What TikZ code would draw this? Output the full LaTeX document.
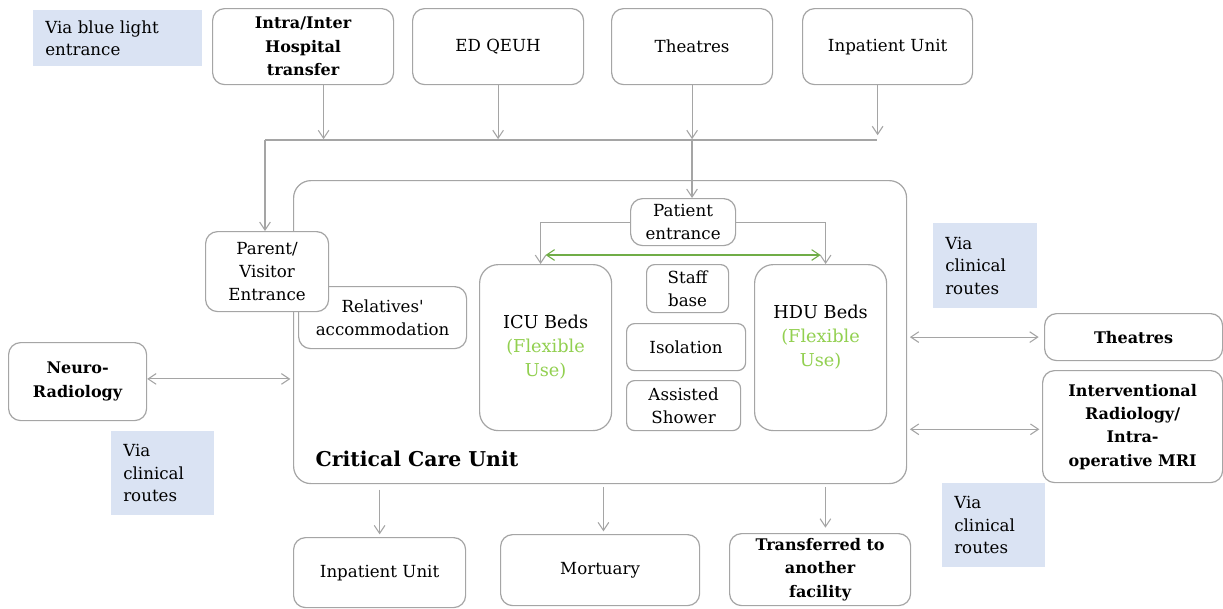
\documentclass[tikz,border=0pt]{standalone}
\usepackage{fontspec}
\setmainfont{DejaVu Serif}
\usetikzlibrary{arrows.meta}
\definecolor{linegray}{HTML}{A5A5A5}
\definecolor{notefill}{HTML}{DAE3F3}
\definecolor{flexgreen}{HTML}{92D050}
\definecolor{pathgreen}{HTML}{70AD47}
\tikzset{
    wh/.style 2 args={minimum width=#1*0.75pt, minimum height=#2*0.75pt},
    box/.style={draw=linegray, line width=0.9pt, rounded corners=9pt, fill=white,
        align=center, inner sep=1pt, anchor=north west, font=\fontsize{12.5}{17}\selectfont},
    bbox/.style={box, font=\fontsize{12}{17.5}\selectfont\bfseries},
    bigbox/.style={box, font=\fontsize{13.3}{18}\selectfont},
    note/.style 2 args={fill=notefill, anchor=north west, align=left, inner xsep=9pt,
        text width=#1*0.75pt-18pt, minimum height=#2*0.75pt, font=\fontsize{12.5}{17}\selectfont},
    arr/.style={draw=linegray, line width=0.8pt, -{Straight Barb[length=6pt,width=8pt]}},
    dbl/.style={arr, {Straight Barb[length=6pt,width=8pt]}-{Straight Barb[length=6pt,width=8pt]}},
    gdbl/.style={dbl, draw=pathgreen},
}
\begin{document}
\begin{tikzpicture}[x=0.75pt, y=-0.75pt]
        \useasboundingbox (0,0) rectangle (1223,608);
        % notes
        \node[note={169}{56}] (noteblue) at (33,10) {Via blue light\\entrance};
        \node[note={104}{85}] (noteright) at (933,223) {Via\\clinical\\routes};
        \node[note={103}{84}] (noteleft) at (111,431) {Via\\clinical\\routes};
        \node[note={103}{84}] (notebottom) at (942,483) {Via\\clinical\\routes};
        % sources
        \node[bbox, wh={181}{76}] (intra) at (212,8) {Intra/Inter\\Hospital\\transfer};
        \node[box, wh={171}{76}] (ed) at (412,8) {ED QEUH};
        \node[box, wh={161}{76}] (theatrestop) at (611,8) {Theatres};
        \node[box, wh={170}{76}] (inpatienttop) at (802,8) {Inpatient Unit};
        \coordinate (busl) at (265,140);
        \coordinate (busm) at (692,140);
        \coordinate (busr) at (877,140);
        \draw[draw=linegray, line width=0.8pt] (busl) -- (busr);
        \draw[arr] (intra.south) ++(20.5,0) -- ++(0,54);
        \draw[arr] (ed.south) -- ++(0,54);
        \draw[arr] (theatrestop.south) -- ++(0,54);
        \draw[arr] (inpatienttop.south) ++(-10,0) -- ++(0,50);
        % unit
        \node[box, rounded corners=13pt, wh={613}{303}] (ccu) at (293,180) {};
        \node[anchor=base west, font=\fontsize{15.3}{18}\selectfont\bfseries] (ccutitle) at (311,466) {Critical Care Unit};
        \node[box, wh={168}{62}] (relatives) at (298,286) {Relatives\textquotesingle\\accommodation};
        \node[box, wh={123}{80}] (parent) at (205,231) {Parent/\\Visitor\\Entrance};
        \node[box, wh={105}{47}] (patient) at (630,198) {Patient\\entrance};
        \node[bigbox, rounded corners=14pt, wh={132}{166}] (icu) at (479,264) {ICU Beds\\\textcolor{flexgreen}{(Flexible}\\\textcolor{flexgreen}{Use)}};
        \node[bigbox, rounded corners=14pt, wh={132}{166}] (hdu) at (754,264) {HDU Beds\\\textcolor{flexgreen}{(Flexible}\\\textcolor{flexgreen}{Use)}\\\mbox{}};
        \node[box, rounded corners=6pt, wh={82}{48}] (staff) at (646,264) {Staff\\base};
        \node[box, rounded corners=6pt, wh={119}{47}] (isolation) at (626,323) {Isolation};
        \node[box, rounded corners=6pt, wh={114}{50}] (shower) at (626,380) {Assisted\\Shower};
        \draw[arr] (busl) -- (busl |- parent.north);
        \draw[arr] (busm) -- (busm |- patient.north);
        \draw[arr] (patient.west) -| ([xshift=-3.75pt]icu.north);
        \draw[arr] (patient.east) -| ([xshift=3.75pt]hdu.north);
        \draw[gdbl] ([yshift=6.75pt]icu.north) -- ([yshift=6.75pt]hdu.north);
        % clinical routes
        \node[bbox, wh={138}{78}] (neuro) at (8,342) {Neuro-\\Radiology};
        \node[bbox, wh={178}{47}] (theatresright) at (1044,313) {Theatres};
        \node[bbox, wh={180}{112}] (irmri) at (1042,370) {Interventional\\Radiology/\\Intra-\\operative MRI};
        \draw[dbl, shorten >=2pt] ([yshift=2pt]neuro.east) -- ([yshift=2pt]neuro.east -| ccu.west);
        \draw[dbl, shorten <=2pt, shorten >=4pt] (ccu.east |- theatresright.west) -- (theatresright.west);
        \draw[dbl, shorten <=2pt, shorten >=2pt] ([yshift=-2pt]ccu.east |- irmri.west) -- ([yshift=-2pt]irmri.west);
        % outcomes
        \node[box, wh={172}{70}] (inpatientbot) at (293,537) {Inpatient Unit};
        \node[box, wh={199}{71}] (mortuary) at (500,534) {Mortuary};
        \node[bbox, wh={181}{72}] (transferred) at (729,533) {Transferred to\\another\\facility};
        \draw[arr, shorten <=4pt, shorten >=2pt] (ccu.south -| inpatientbot.north) -- (inpatientbot.north);
        \draw[arr, shorten <=2pt, shorten >=2pt] ([xshift=2.5pt]ccu.south -| mortuary.north) -- ([xshift=2.5pt]mortuary.north);
        \draw[arr, shorten <=2pt, shorten >=4pt] ([xshift=4pt]ccu.south -| transferred.north) -- ([xshift=4pt]transferred.north);
\end{tikzpicture}
\end{document}
